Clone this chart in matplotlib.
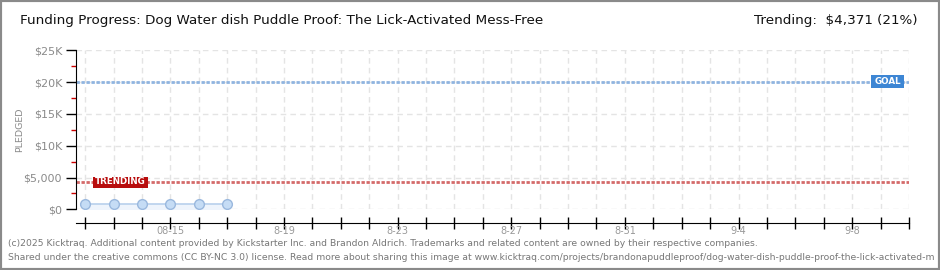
import matplotlib
matplotlib.use("Agg")
import matplotlib.pyplot as plt
import matplotlib.dates as mdates
from matplotlib.patches import Rectangle
from matplotlib.ticker import FixedLocator, FuncFormatter
import numpy as np
import datetime as dt

# ---- data ----
dates = ["2025-08-12", "2025-08-13", "2025-08-14", "2025-08-15", "2025-08-16", "2025-08-17"]
pledged = [850, 850, 850, 850, 850, 850]
goal = 20000
trending = 4371
trend_pct = 21
x_start = "2025-08-12"
x_end = "2025-09-10"
label_dates = ["2025-08-15", "2025-08-19", "2025-08-23", "2025-08-27", "2025-08-31", "2025-09-04", "2025-09-08"]
label_texts = ["08-15", "8-19", "8-23", "8-27", "8-31", "9-4", "9-8"]
y_ticks = [0, 5000, 10000, 15000, 20000, 25000]
y_labels = ["$0", "$5,000", "$10K", "$15K", "$20K", "$25K"]
title = "Funding Progress: Dog Water dish Puddle Proof: The Lick-Activated Mess-Free"
footer1 = "(c)2025 Kicktraq. Additional content provided by Kickstarter Inc. and Brandon Aldrich. Trademarks and related content are owned by their respective companies."
footer2 = "Shared under the creative commons (CC BY-NC 3.0) license. Read more about sharing this image at www.kicktraq.com/projects/brandonapuddleproof/dog-water-dish-puddle-proof-the-lick-activated-m"

plt.rcParams['font.family'] = ["DejaVu Sans"]

W, H = 940, 270
fig = plt.figure(figsize=(W / 100, H / 100), dpi=100)
fig.patch.set_facecolor("white")
fig.add_artist(Rectangle((0, 0), 1, 1, transform=fig.transFigure, fill=False,
                         edgecolor="#8a8a8a", linewidth=3))

left, right = 76 / W, 909 / W
bottom, top = (H - 209.3) / H, (H - 50.3) / H
ax = fig.add_axes([left, bottom, right - left, top - bottom])

d = [mdates.date2num(dt.datetime.fromisoformat(s)) for s in dates]
xs = mdates.date2num(dt.datetime.fromisoformat(x_start))
xe = mdates.date2num(dt.datetime.fromisoformat(x_end))
ax.set_xlim(xs - 0.32, xe)
ax.set_ylim(0, 25000)

# grid
for xv in np.arange(xs, xe + 0.5, 1.0):
    ax.axvline(xv, color="#e4e4e4", lw=1, ls=(0, (4, 3)), zorder=0)
for yv in y_ticks:
    ax.axhline(yv, color="#e4e4e4", lw=1, ls=(0, (4, 3)), zorder=0)

# goal / trending lines
ax.axhline(goal, color="#8fb4e0", lw=2, ls=(0, (1.2, 0.6)), zorder=2)
ax.axhline(trending, color="#d46a6a", lw=2, ls=(0, (1.2, 0.6)), zorder=2)

# data
ax.fill_between(d, 0, pledged, color="#eef4fc", zorder=1)
ax.plot(d, pledged, color="#b8d0ec", lw=1.2, marker="o", ms=7,
        mfc="#c5dcf5", mec="#9ab8de", mew=1, zorder=3)

# labels on lines
def tag(xpx0, xpx1, ypx0, ypx1, color, text):
    x0, x1 = xpx0 / W, xpx1 / W
    y0, y1 = (H - ypx1) / H, (H - ypx0) / H
    fig.add_artist(Rectangle((x0, y0), x1 - x0, y1 - y0, transform=fig.transFigure,
                             facecolor=color, edgecolor="none", zorder=5))
    fig.text((x0 + x1) / 2, (y0 + y1) / 2, text, color="white", fontsize=6.3,
             fontweight="bold", ha="center", va="center", zorder=6)

tag(93, 148, 176.5, 187.5, "#b80d0d", "TRENDING")
tag(871, 904, 75, 88.5, "#3d86d4", "GOAL")

# spines
for s in ["top", "right"]:
    ax.spines[s].set_visible(False)
ax.spines["left"].set_color("black")
ax.spines["bottom"].set_position(("outward", 10))
ax.spines["bottom"].set_color("black")

ax.yaxis.set_major_locator(FixedLocator(y_ticks))
ax.set_yticklabels(y_labels)
ax.yaxis.set_minor_locator(FixedLocator([2500, 7500, 12500, 17500, 22500]))
ax.tick_params(axis="y", which="major", length=7, width=1, color="black",
               labelsize=8, labelcolor="#8a8a8a", pad=3)
ax.tick_params(axis="y", which="minor", length=3.5, width=1, color="#cc0000")

ax.xaxis.set_major_locator(FixedLocator(list(np.arange(xs, xe + 0.5, 1.0))))
ax.xaxis.set_major_formatter(FuncFormatter(lambda v, p: ""))
ax.tick_params(axis="x", which="major", direction="inout", length=9, width=1, color="black")
for ld, lt in zip(label_dates, label_texts):
    xv = mdates.date2num(dt.datetime.fromisoformat(ld))
    ax.text(xv, -0.135, lt, transform=ax.get_xaxis_transform(), ha="center", va="center",
            fontsize=7, color="#999999")

ax.set_facecolor("white")

fig.text(20 / W, 1 - 21 / H, title, fontsize=9.7, color="#111111", ha="left", va="center")
fig.text(918 / W, 1 - 21 / H, f"Trending:  ${trending:,} ({trend_pct}%)", fontsize=9.7,
         color="#111111", ha="right", va="center")
fig.text(20 / W, (H - 130) / H, "PLEDGED", rotation=90, fontsize=6.8,
         color="#8a8a8a", ha="center", va="center")
fig.text(8 / W, 1 - 243 / H, footer1, fontsize=6.65, color="#777777", ha="left", va="center")
fig.text(8 / W, 1 - 257 / H, footer2, fontsize=6.65, color="#777777", ha="left", va="center")

fig.savefig("out.png", dpi=100, facecolor="white")
